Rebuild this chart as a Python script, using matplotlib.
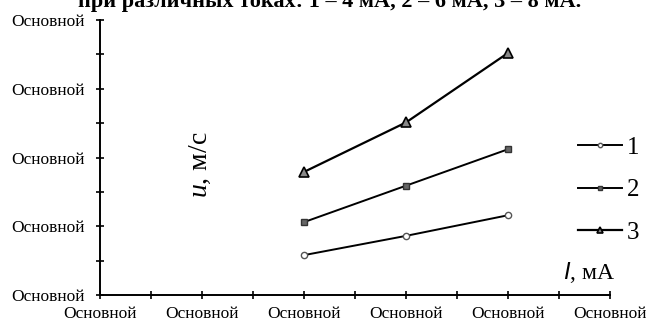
import matplotlib
matplotlib.use("Agg")
import matplotlib.pyplot as plt
from matplotlib.ticker import MultipleLocator, FixedFormatter, FixedLocator

# Data
x_vals = [2, 3, 4]
series_1 = [0.58, 0.86, 1.16]
series_2 = [1.06, 1.59, 2.12]
series_3 = [1.79, 2.51, 3.52]
series_labels = ["1", "2", "3"]
x_tick_labels = ["Основной"] * 6
y_tick_labels = ["Основной"] * 5
title_text = "при различных токах: 1 – 4 мА, 2 – 6 мА, 3 – 8 мА."

plt.rcParams['font.family'] = ['Liberation Serif', 'DejaVu Serif']
plt.rcParams['mathtext.fontset'] = 'custom'
plt.rcParams['mathtext.it'] = 'Liberation Serif:italic'
plt.rcParams['mathtext.sf'] = 'Liberation Sans:italic'
plt.rcParams['mathtext.rm'] = 'Liberation Serif'

fig = plt.figure(figsize=(6.46, 3.24), dpi=100)
ax = fig.add_axes([100/646, 29/324, 510/646, 275/324])

l1, = ax.plot(x_vals, series_1, color='black', lw=1.4, marker='o', ms=4.5,
              mfc='white', mec='#555555', mew=1.0, label=series_labels[0])
l2, = ax.plot(x_vals, series_2, color='black', lw=1.4, marker='s', ms=4.5,
              mfc='#666666', mec='#333333', mew=1.0, label=series_labels[1])
l3, = ax.plot(x_vals, series_3, color='black', lw=1.6, marker='^', ms=6.5,
              mfc='#888888', mec='black', mew=1.2, label=series_labels[2])

ax.set_xlim(0, 5)
ax.set_ylim(0, 4)
ax.xaxis.set_major_locator(FixedLocator(range(6)))
ax.xaxis.set_major_formatter(FixedFormatter(x_tick_labels))
ax.xaxis.set_minor_locator(MultipleLocator(0.5))
ax.yaxis.set_major_locator(FixedLocator(range(5)))
ax.yaxis.set_major_formatter(FixedFormatter(y_tick_labels))
ax.yaxis.set_minor_locator(MultipleLocator(0.5))

for s in ['top', 'right']:
    ax.spines[s].set_visible(False)
for s in ['left', 'bottom']:
    ax.spines[s].set_linewidth(1.4)

ax.tick_params(axis='both', which='both', direction='inout', length=6, width=1.2,
               labelsize=12.5)
ax.tick_params(axis='y', pad=8)
ax.tick_params(axis='x', pad=5)

ax.text(0.98, 1.89, "$\\mathit{u}$, м/с", rotation=90, ha='center', va='center',
        fontsize=20)
ax.text(4.8, 0.33, "$\\mathsf{I}$, мА", ha='center', va='center', fontsize=17)

leg = ax.legend(handles=[l1, l2, l3], loc='center left',
                bbox_to_anchor=(578/646, (324-190)/324), bbox_transform=fig.transFigure,
                frameon=False, fontsize=18, handlelength=1.75, handletextpad=0.2,
                labelspacing=0.8, borderpad=0, borderaxespad=0, markerscale=0.7)

fig.text(330/646, 1 - 7/324, title_text, ha='center', va='baseline', fontsize=16,
         fontweight='bold')

fig.savefig("out.png", dpi=100)
